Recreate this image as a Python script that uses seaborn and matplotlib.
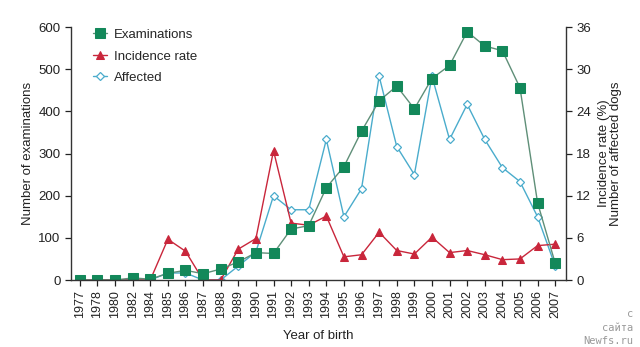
import matplotlib
matplotlib.use("Agg")
import matplotlib.pyplot as plt
import seaborn as sns
import pandas as pd
import numpy as np

years = ["1977", "1978", "1980", "1982", "1984", "1985", "1986", "1987", "1988", "1989",
         "1990", "1991", "1992", "1993", "1994", "1995", "1996", "1997", "1998", "1999",
         "2000", "2001", "2002", "2003", "2004", "2005", "2006", "2007"]
examinations = [0, 0, 0, 5, 2, 16, 23, 15, 26, 43, 65, 63, 121, 129, 219, 269, 353, 425,
                460, 406, 478, 509, 589, 555, 544, 456, 183, 40]
incidence = [0, 0, 0, 0, 0, 5.8, 4.1, 0, 0, 4.4, 5.9, 18.4, 8.1, 7.8, 9.1, 3.3, 3.6, 6.8,
             4.2, 3.7, 6.1, 3.9, 4.2, 3.6, 2.9, 3.0, 4.9, 5.1]
affected = [0, 0, 0, 0, 0, 1, 1, 0, 0, 2, 4, 12, 10, 10, 20, 9, 13, 29, 19, 15, 29, 20,
            25, 20, 16, 14, 9, 2]
left_ticks = [0, 100, 200, 300, 400, 500, 600]
right_ticks = [0, 6, 12, 18, 24, 30, 36]

sns.set_style("ticks")
plt.rcParams["font.family"] = ["Liberation Sans", "DejaVu Sans"]

df = pd.DataFrame({"pos": np.arange(len(years)), "year": years,
                   "Examinations": examinations, "Incidence rate": incidence,
                   "Affected": affected})

fig = plt.figure(figsize=(6.4, 3.47), dpi=100)
ax = fig.add_axes([0.111, 0.193, 0.773, 0.729])
ax2 = ax.twinx()

green = "#13885a"
green_line = "#5f8f78"
red = "#c9263b"
cyan = "#4aaccc"

sns.lineplot(data=df, x="pos", y="Affected", ax=ax2, color=cyan, marker="D",
             markersize=4.5, markerfacecolor="white", markeredgecolor=cyan,
             markeredgewidth=0.9, linewidth=1.0, label="Affected", legend=False)
sns.lineplot(data=df, x="pos", y="Incidence rate", ax=ax2, color=red, marker="^",
             markersize=5.5, markeredgecolor=red, linewidth=1.0, label="Incidence rate",
             legend=False)
sns.lineplot(data=df, x="pos", y="Examinations", ax=ax, color=green_line, marker="s",
             markersize=6.5, markerfacecolor=green, markeredgecolor=green,
             linewidth=1.0, label="Examinations", legend=False)

ax.set_zorder(ax2.get_zorder() + 1)
ax.patch.set_visible(False)

ax.set_xlim(-0.5, 27.6)
ax.set_ylim(0, 600)
ax2.set_ylim(0, 36)
ax.set_yticks(left_ticks)
ax2.set_yticks(right_ticks)
ax.set_xticks(df["pos"])
ax.set_xticklabels(years, rotation=90)

for a in (ax, ax2):
    a.spines["top"].set_visible(False)
    for s in a.spines.values():
        s.set_color("#333333")
        s.set_linewidth(1.0)
    a.tick_params(colors="#222222", labelsize=9.5, length=4, width=0.9)
ax.tick_params(axis="x", labelsize=9)
ax.spines["right"].set_visible(False)
ax2.spines["left"].set_visible(False)
ax2.spines["bottom"].set_visible(False)

ax.set_xlabel("Year of birth", fontsize=9.5, color="#222222", labelpad=8)
ax.set_ylabel("Number of examinations", fontsize=9.5, color="#222222", labelpad=3)
ax2.set_ylabel("Incidence rate (%)\nNumber of affected dogs", fontsize=9.5,
               color="#222222", labelpad=5, linespacing=1.0)

h1, l1 = ax.get_legend_handles_labels()
h2, l2 = ax2.get_legend_handles_labels()
hmap = dict(zip(l1 + l2, h1 + h2))
order = ["Examinations", "Incidence rate", "Affected"]
ax.legend([hmap[k] for k in order], order, loc="upper left",
          bbox_to_anchor=(0.02, 1.04), frameon=False, fontsize=9.5,
          handlelength=1.1, handletextpad=0.5, labelspacing=0.7)

fig.text(0.99, 0.095, "с", ha="right", va="center", fontsize=7.5, color="#999999",
         family="DejaVu Sans Mono")
fig.text(0.99, 0.055, "сайта", ha="right", va="center", fontsize=7.5, color="#999999",
         family="DejaVu Sans Mono")
fig.text(0.99, 0.018, "Newfs.ru", ha="right", va="center", fontsize=7.5,
         color="#999999", family="DejaVu Sans Mono")

fig.savefig("out.png", dpi=100)
